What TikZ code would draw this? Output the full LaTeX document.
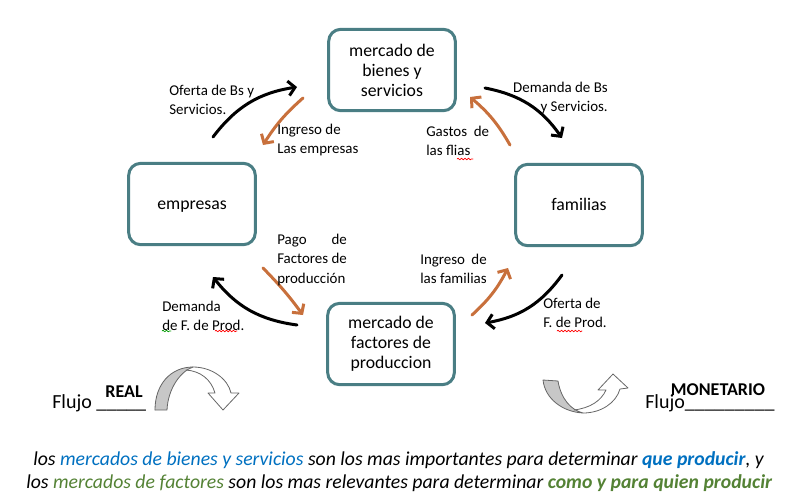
\documentclass[tikz,border=0pt]{standalone}
\usepackage{fontspec}
\setmainfont{Carlito}
\usetikzlibrary{arrows.meta,decorations.pathmorphing}
\definecolor{caja}{HTML}{4A7E84}
\definecolor{naranja}{HTML}{C8703C}
\definecolor{azul}{HTML}{0070C0}
\definecolor{verde}{HTML}{548235}
\definecolor{sombra}{gray}{0.78}
\begin{document}
\begin{tikzpicture}[x=0.75pt,y=-0.75pt, line join=round, line cap=round,
    caja/.style={draw=caja, line width=2.25pt, rounded corners=9pt, minimum width=95pt,
        minimum height=61pt, align=center, inner sep=2pt, font=\fontsize{13.3}{15}\selectfont},
    cajauna/.style={caja, text height=1.06em, text depth=0.2em},
    etiq/.style={inner sep=0pt, align=left, font=\fontsize{11.2}{14.5}\selectfont},
    flujo/.style={line width=2.25pt, -{Straight Barb[length=5pt,width=11pt]}},
    pago/.style={flujo, draw=naranja},
    onda/.style={line width=0.5pt, decorate, decoration={snake, amplitude=0.6pt, segment length=2.6pt}},
    leyenda/.style={draw=black!60, line width=0.6pt}]
    \useasboundingbox (0,0) rectangle (810,501);

    % cajas
    \node[caja] (mbs) at (392,70) {mercado de\\bienes y\\servicios};
    \node[cajauna] (emp) at (192,204) {empresas};
    \node[cajauna] (fam) at (579,205) {familias};
    \node[caja] (mfp) at (391,344) {mercado de\\factores de\\produccion};

    % flujo real
    \coordinate (ob1) at (213,137); \coordinate (ob2) at (297,87);
    \coordinate (db1) at (485,88);  \coordinate (db2) at (562,138);
    \coordinate (of1) at (562,275); \coordinate (of2) at (485,323);
    \coordinate (df1) at (297,325); \coordinate (df2) at (213,277);
    \draw[flujo] (ob1) to[bend left=22] (ob2);
    \draw[flujo] (db1) to[bend left=22] (db2);
    \draw[flujo] (of1) to[bend left=22] (of2);
    \draw[flujo] (df1) to[bend left=22] (df2);

    % flujo monetario
    \coordinate (ie1) at (303,98);  \coordinate (ie2) at (263,145);
    \coordinate (gf1) at (510,145); \coordinate (gf2) at (470,97);
    \coordinate (pf1) at (263,268); \coordinate (pf2) at (303,315);
    \coordinate (if1) at (472,315); \coordinate (if2) at (508,268);
    \draw[pago] (ie1) to[bend right=8] (ie2);
    \draw[pago] (gf1) to[bend right=10] (gf2);
    \draw[pago] (pf1) to[bend left=4] (pf2);
    \draw[pago] (if1) to[bend right=10] (if2);

    % etiquetas
    \node[etiq, anchor=west] (tob) at (169,100) {Oferta de Bs y\\Servicios.};
    \node[etiq, anchor=west] (tie) at (277,140) {Ingreso de\\Las empresas};
    \node[etiq, anchor=west] (tgf) at (426,141) {Gastos\ \ de\\las flias};
    \node[etiq, anchor=east, align=right] (tdb) at (608,98) {Demanda de Bs\\y Servicios.};
    \node[etiq, anchor=west] (tpf) at (277,260)
        {\begin{tabular}{@{}l@{}}Pago\hfill de\\Factores de\\producción\end{tabular}};
    \node[etiq, anchor=west] (tif) at (420,270)
        {\begin{tabular}{@{}l@{}}Ingreso\hfill de\\las familias\end{tabular}};
    \node[etiq, anchor=west] (tdf) at (162,316) {Demanda\\de F. de Prod.};
    \node[etiq, anchor=west] (tof) at (543,313) {Oferta de\\F. de Prod.};
    \draw[onda, red] (457,159) -- (473,159);
    \draw[onda, green!60!black] (162,331) -- (171,331);
    \draw[onda, red] (215,331) -- (237,331);
    \draw[onda, red] (557,331) -- (582,331);

    % leyenda
    \node[anchor=base west, inner sep=0pt, font=\fontsize{15}{18}\selectfont] (fr) at (52,408) {Flujo \_\_\_\_\_};
    \node[inner sep=0pt, font=\bfseries\fontsize{13.5}{16}\selectfont] (real) at (124,392) {REAL};
    \node[anchor=base west, inner sep=0pt, font=\fontsize{15}{18}\selectfont] (fm) at (645,408) {Flujo\_\_\_\_\_\_\_\_\_};
    \node[inner sep=0pt, font=\bfseries\fontsize{13.5}{16}\selectfont] (mon) at (718,390) {MONETARIO};

    \fill[sombra] (155,410) .. controls (155,384) and (171,367) .. (193,367)
        .. controls (181,371) and (168,388) .. (167,410) -- cycle;
    \draw[leyenda] (155,410) .. controls (155,384) and (171,367) .. (193,367)
        .. controls (212,367) and (228,379) .. (231,393) -- (239,393) -- (223,410)
        -- (208,393) -- (215,393) .. controls (211,379) and (200,371) .. (186,370);
    \draw[leyenda] (155,410) -- (167,410) .. controls (168,388) and (181,371) .. (193,367);

    \fill[sombra] (543,380) -- (558,381) .. controls (561,399) and (571,410) .. (583,413)
        .. controls (563,412) and (545,399) .. (543,380) -- cycle;
    \draw[leyenda] (543,380) -- (558,381) .. controls (561,399) and (571,410) .. (583,413)
        .. controls (563,412) and (545,399) .. (543,380);
    \draw[leyenda] (583,413) .. controls (601,413) and (616,403) .. (620,389) -- (628,388)
        -- (613,374) -- (598,390) -- (606,390) .. controls (601,401) and (590,408) .. (574,410);

    % texto inferior
    \node[anchor=west, inner sep=0pt, font=\itshape\fontsize{14.8}{17}\selectfont] (l1) at (33,460)
        {los \textcolor{azul}{mercados de bienes y servicios} son los mas importantes para determinar
        \textcolor{azul}{\bfseries que producir}, y};
    \node[anchor=west, inner sep=0pt, font=\itshape\fontsize{14.8}{17}\selectfont] (l2) at (26,483)
        {los \textcolor{verde}{mercados de factores} son los mas relevantes para determinar
        \textcolor{verde}{\bfseries como y para quien producir}};
\end{tikzpicture}
\end{document}
